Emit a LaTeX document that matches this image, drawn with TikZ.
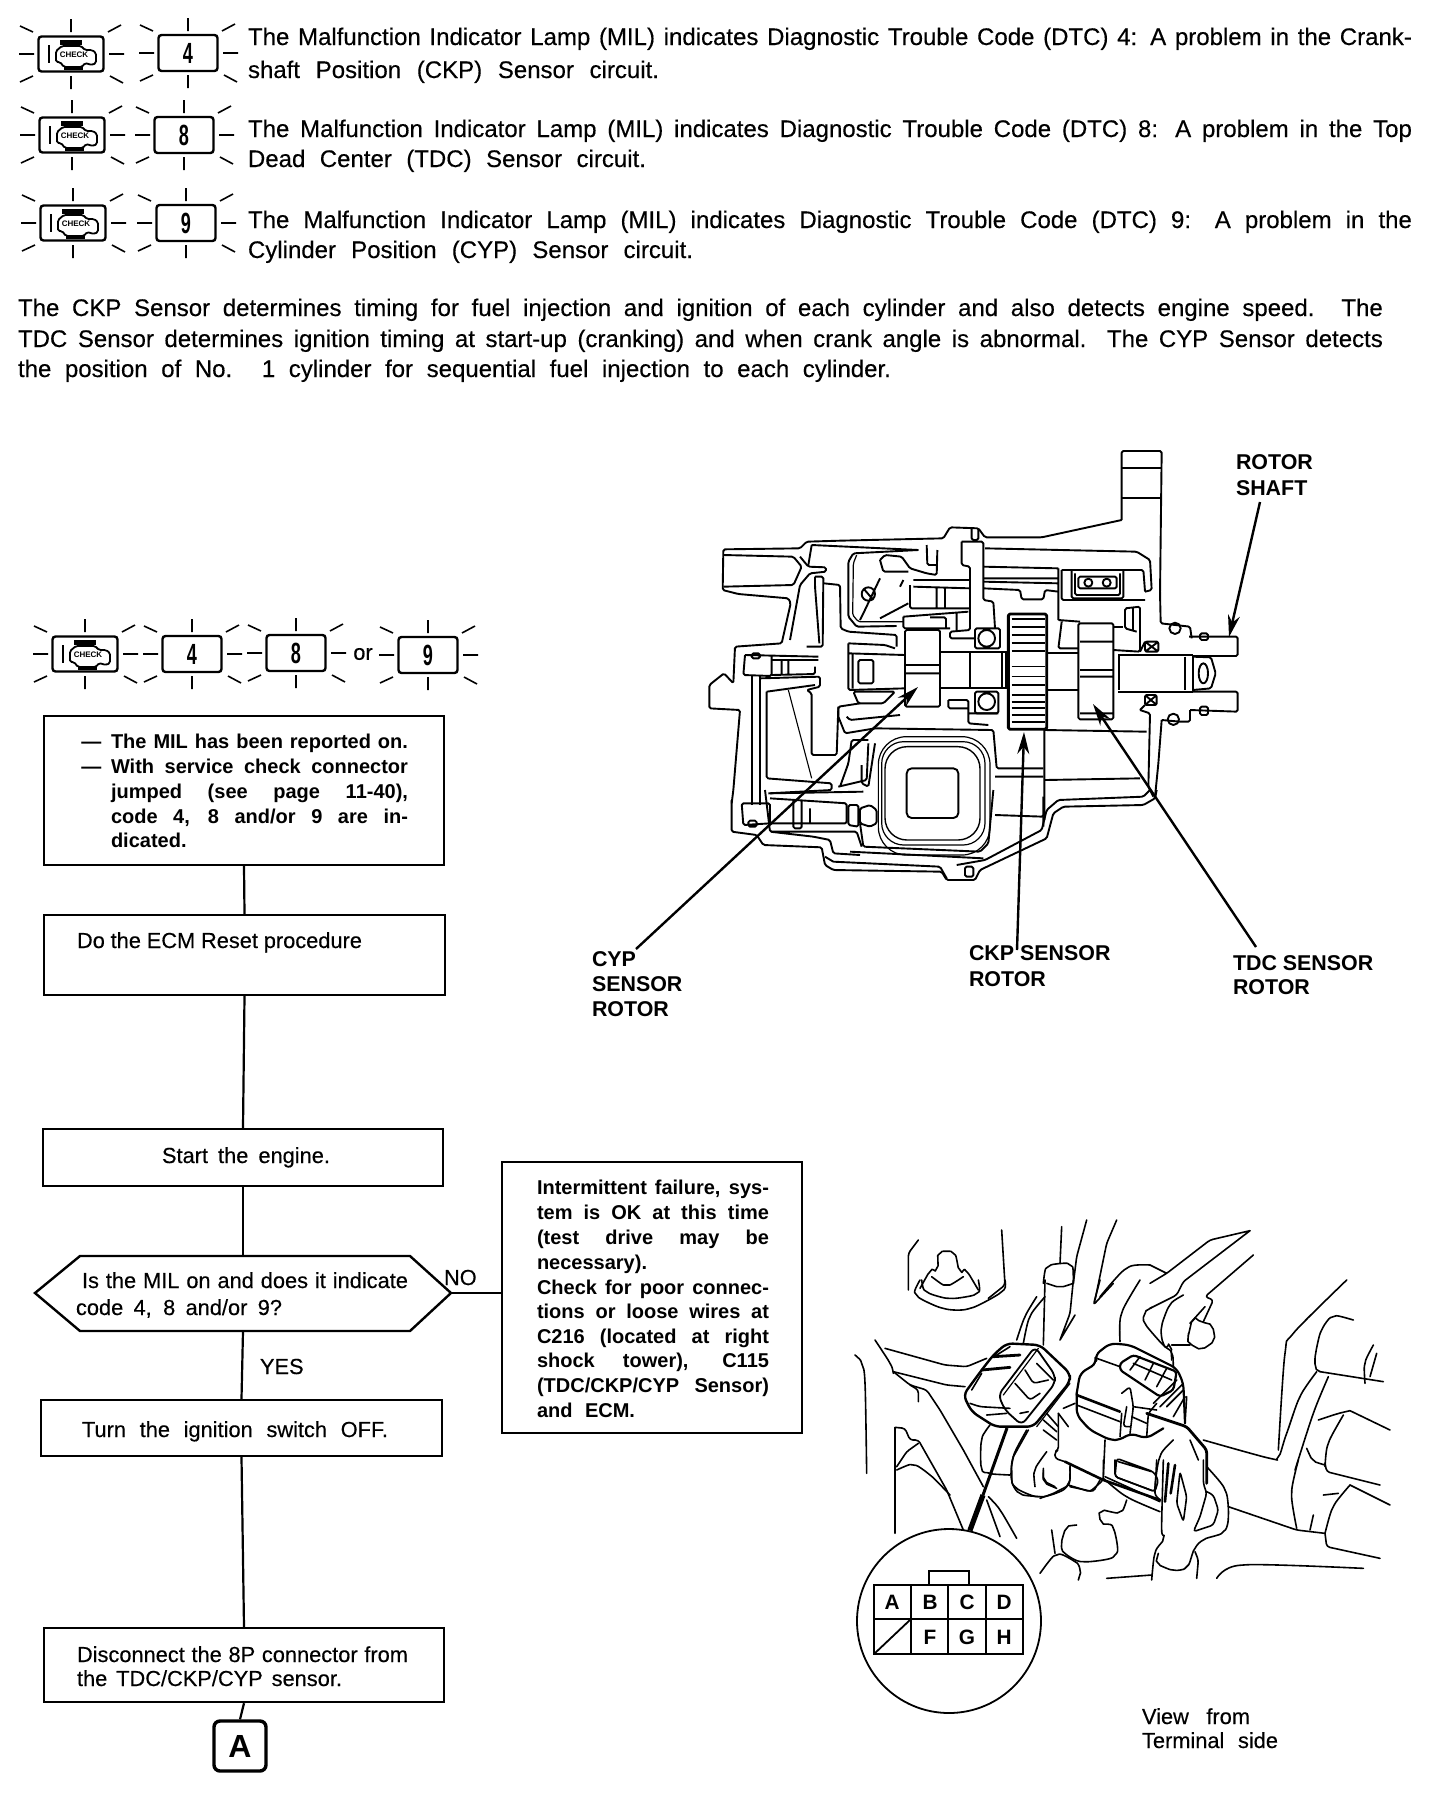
\documentclass[tikz,border=0pt]{standalone}
\usepackage{fontspec}
\usepackage{graphicx}
\usetikzlibrary{arrows.meta}
\setmainfont{Liberation Sans}
\newfontfamily\bodyf[FakeBold=0.35]{Liberation Sans}
\newfontfamily\boldf[Ligatures=TeX]{Liberation Sans Bold}
\newdimen\pxu \pxu=0.5pt
\newcommand\fbody{\bodyf\fontsize{12}{14}\selectfont}
\newcommand\fflow{\bodyf\fontsize{10.9}{13}\selectfont}
\newcommand\fbold{\boldf\fontsize{10}{12}\selectfont}
\newcommand\flab{\boldf\fontsize{10.7}{12}\selectfont}
\newcommand\fpin{\boldf\fontsize{10.4}{12}\selectfont}
\newcommand\txl[6]{\node[tline,font=#1] (#2) at (#3,#4) {\makebox[#5\pxu][s]{#6}};}
\newcommand\txn[5]{\node[tline,font=#1] (#2) at (#3,#4) {#5};}
\newcommand\fb[5]{\node[flow,minimum width={(#4-#2)*0.5pt},minimum height={(#5-#3)*0.5pt}] (#1) at ({(#2+#4)/2},{(#3+#5)/2}) {};}
\newcommand\rays[4]{%
 \draw[ray] (#1,#2-#4-4)--(#1,#2-#4-17) (#1,#2+#4+4)--(#1,#2+#4+17)
 (#1-#3-4,#2)--(#1-#3-19,#2) (#1+#3+5,#2)--(#1+#3+20,#2)
 (#1-#3-5,#2-#4-4)--(#1-#3-18,#2-#4-10) (#1+#3+4,#2-#4-4)--(#1+#3+17,#2-#4-11)
 (#1-#3-5,#2+#4+4)--(#1-#3-18,#2+#4+10) (#1+#3+6,#2+#4+4)--(#1+#3+19,#2+#4+11);}
\newcommand\lamp[3]{%
 \node[lampbox] (#1) at (#2,#3) {};
 \rays{#2}{#3}{33}{18}
 \begin{scope}[shift={(#2,#3)}]
  \draw[line width=1.1pt] (-22,-9)--(-22,9);
  \draw[line width=0.9pt,rounded corners=0.8pt] (-15,-3)--(-9,-8)--(10,-8)--(14,-4)--(21,-4)--(25,-1)--(25,9)--(21,11)--(14,9)--(11,13)--(-7,13)--(-11,8)--(-15,8)--cycle;
  \fill (-11,-14) rectangle (11,-9);
  \fill (-7,13) rectangle (12,16);
  \node[inner sep=0,font=\boldf\fontsize{4}{5}\selectfont] (#1t) at (3,1) {CHECK};
 \end{scope}}
\newcommand\numb[4]{%
 \node[numbox] (#1) at (#2,#3) {\scalebox{0.62}[1]{#4}};
 \rays{#2}{#3}{30}{18}}
\tikzset{
 tline/.style={anchor=base west,inner sep=0pt,outer sep=0pt},
 flow/.style={draw,line width=1.2pt,inner sep=0pt},
 link/.style={line width=1.1pt},
 ray/.style={line width=0.8pt},
 lampbox/.style={draw,rounded corners=1.5pt,line width=1.2pt,inner sep=0pt,minimum width=32.5pt,minimum height=17.5pt},
 numbox/.style={draw,rounded corners=1.5pt,line width=1.2pt,inner sep=0pt,minimum width=29.5pt,minimum height=18pt,font=\boldf\fontsize{14.6}{15}\selectfont},
 sec/.style={x=0.16667pt,y=-0.16667pt,line width=0.95pt,line join=round,rounded corners=0.8pt},
 leader/.style={line width=1.2pt,-{Stealth[length=11pt,width=6pt]}},
 art/.style={x=0.16667pt,y=-0.16667pt,line width=0.8pt,line join=round,line cap=round,rounded corners=1.5pt},
 pin/.style={inner sep=0pt,font=\fpin}
}
\begin{document}
\begin{tikzpicture}[x=0.5pt,y=-0.5pt]
\useasboundingbox (0,0) rectangle (1440,1804);
% --- top rows
\lamp{l1}{71}{54}\numb{n1}{188}{53}{4}
\lamp{l2}{72}{135}\numb{n2}{184}{135}{8}
\lamp{l3}{73}{223}\numb{n3}{186}{223}{9}
\txl{\fbody}{t1a}{248}{45}{1164}{The Malfunction Indicator Lamp (MIL) indicates Diagnostic Trouble Code (DTC) 4: A problem in the Crank-}
\txl{\fbody}{t1b}{248}{78}{411}{shaft Position (CKP) Sensor circuit.}
\txl{\fbody}{t2a}{248}{137}{1164}{The Malfunction Indicator Lamp (MIL) indicates Diagnostic Trouble Code (DTC) 8: A problem in the Top}
\txl{\fbody}{t2b}{248}{167}{398}{Dead Center (TDC) Sensor circuit.}
\txl{\fbody}{t3a}{248}{228}{1164}{The Malfunction Indicator Lamp (MIL) indicates Diagnostic Trouble Code (DTC) 9: A problem in the}
\txl{\fbody}{t3b}{248}{258}{445}{Cylinder Position (CYP) Sensor circuit.}
\txl{\fbody}{p1}{18}{316}{1365}{The CKP Sensor determines timing for fuel injection and ignition of each cylinder and also detects engine speed. The}
\txl{\fbody}{p2}{18}{347}{1365}{TDC Sensor determines ignition timing at start-up (cranking) and when crank angle is abnormal. The CYP Sensor detects}
\txl{\fbody}{p3}{18}{377}{873}{the position of No. 1 cylinder for sequential fuel injection to each cylinder.}
% --- flow row
\lamp{l4}{85}{654}\numb{n4}{192}{654}{4}\numb{n8}{296}{653}{8}\numb{n9}{428}{655}{9}
\node[inner sep=0,font=\fflow] (orw) at (363,654) {or};
% --- flow boxes
\fb{b1}{44}{716}{444}{865}
\fb{b2}{44}{915}{445}{995}
\fb{b3}{43}{1129}{443}{1186}
\fb{b4}{41}{1400}{442}{1456}
\fb{b5}{44}{1628}{444}{1702}
\fb{side}{502}{1162}{802}{1433}
\node[draw,rounded corners=3pt,line width=1.7pt,minimum width=26pt,minimum height=25pt,inner sep=0,font=\boldf\fontsize{16}{18}\selectfont] (a) at (240,1746) {A};
% decision
\coordinate (dl) at (35,1293);
\coordinate (dtl) at (80,1256);
\coordinate (dtr) at (410,1256);
\coordinate (dr) at (451,1293);
\coordinate (dbr) at (410,1331);
\coordinate (dbl) at (80,1331);
\coordinate (dt) at (243,1256);
\coordinate (db) at (243,1331);
\draw[flow] (dl)--(dtl)--(dtr)--(dr)--(dbr)--(dbl)--cycle;
% connectors
\draw[link] (b1.south)--(b2.north);
\draw[link] (b2.south)--(b3.north);
\draw[link] (b3.south)--(dt);
\draw[link] (db)--(b4.north);
\draw[link] (b4.south)--(b5.north);
\draw[link] (b5.south)--(a.north);
\draw[link] (dr)--(side.west |- dr);
% flow texts
\node[inner sep=0,font=\fbold,anchor=base west] (d1) at (81,748) {---};
\node[inner sep=0,font=\fbold,anchor=base west] (d2) at (81,773) {---};
\txl{\fbold}{x1}{111}{748}{297}{The MIL has been reported on.}
\txl{\fbold}{x2}{111}{773}{297}{With service check connector}
\txl{\fbold}{x3}{111}{798}{297}{jumped (see page 11-40),}
\txl{\fbold}{x4}{111}{823}{297}{code 4, 8 and/or 9 are in-}
\txl{\fbold}{x5}{111}{847}{80}{dicated.}
\txl{\fflow}{y1}{77}{948}{285}{Do the ECM Reset procedure}
\txl{\fflow}{y2}{162}{1163}{168}{Start the engine.}
\txl{\fflow}{y3}{82}{1288}{326}{Is the MIL on and does it indicate}
\txl{\fflow}{y4}{76}{1315}{206}{code 4, 8 and/or 9?}
\txn{\fflow}{no}{444}{1285}{NO}
\txn{\fflow}{yes}{260}{1374}{YES}
\txl{\fflow}{y5}{82}{1437}{306}{Turn the ignition switch OFF.}
\txl{\fflow}{y6}{77}{1662}{331}{Disconnect the 8P connector from}
\txl{\fflow}{y7}{77}{1686}{265}{the TDC/CKP/CYP sensor.}
\txl{\fbold}{s1}{537}{1194}{232}{Intermittent failure, sys-}
\txl{\fbold}{s2}{537}{1219}{232}{tem is OK at this time}
\txl{\fbold}{s3}{537}{1244}{232}{(test drive may be}
\txl{\fbold}{s4}{537}{1269}{116}{necessary).}
\txl{\fbold}{s5}{537}{1294}{232}{Check for poor connec-}
\txl{\fbold}{s6}{537}{1318}{232}{tions or loose wires at}
\txl{\fbold}{s7}{537}{1343}{232}{C216 (located at right}
\txl{\fbold}{s8}{537}{1367}{232}{shock tower), C115}
\txl{\fbold}{s9}{537}{1392}{232}{(TDC/CKP/CYP Sensor)}
\txl{\fbold}{s10}{537}{1417}{98}{and ECM.}
% main crop of the section
\begin{scope}[shift={(700,520)},sec]
 % bracket
 \draw (1265,0)--(1265,-207)--(1385,-207)--(1380,220)--(1382,310)--(1470,320)--(1475,355);
 \draw (1265,-155)--(1385,-155) (1265,-66)--(1385,-66);
 % shaft end
 \draw (1467,350)--(1613,350)--(1613,408)--(1478,408);
 \draw (1478,515)--(1613,515)--(1613,575)--(1470,570);
 \draw (1478,410)--(1533,412)--(1547,460)--(1533,505)--(1478,510) (1510,460) ellipse (14 and 30);
 \draw (1500,340) rectangle (1524,360) (1500,560) rectangle (1524,585);
 \draw (1265,0)--(1025,52)--(855,52)--(835,25)--(750,22)--(730,55)--(420,62)--(320,65)--(300,85)--(70,88)--(68,210)--(115,222)--(265,235)--(272,250)--(245,370)--(105,380)--(100,490)--(72,460)--(28,495)--(28,565)--(120,570)--(100,810)--(95,850);
 \draw (70,105)--(280,110)--(305,140)--(285,185)--(280,195)--(70,200);
 \draw (300,110)--(325,140)--(378,142)--(378,155)--(330,160)--(300,195)--(270,360);
 \draw (335,75)--(655,90) (335,75)--(325,135);
 \draw (855,85)--(1310,95)--(1350,120)--(1355,210)--(1335,215);
 \draw (345,170)--(370,170)--(368,380)--(320,380) (345,170)--(345,200)--(358,370);
 \draw (655,90)--(460,100)--(445,125)--(445,290)--(470,320)--(590,318);
 \draw[line width=0.6pt] (470,105)--(460,130)--(458,285)--(475,305)--(610,305);
 \draw (372,190)--(420,195)--(422,325)--(445,335)--(590,345)--(590,380);
 \draw (445,370)--(555,375)--(585,385);
 \draw (540,120)--(555,105)--(605,110)--(630,145)--(680,160)--(710,165)--(712,90);
 \draw (540,120)--(550,155)--(625,155) (680,75)--(682,135)--(710,135) (505,222) circle [radius=20] (490,205)--(520,240) (540,175)--(490,280)--(480,300) (540,295)--(625,250) (610,180)--(600,200);
 \draw (135,405)--(355,410) (135,405)--(130,465)--(215,468)--(215,410) (155,400) rectangle (180,415);
 \draw (155,465)--(155,855) (180,465)--(180,855);
 \draw (215,420)--(355,420) (215,465)--(345,462)--(345,440) (245,420)--(245,465) (265,420)--(265,465);
 \draw (180,475)--(360,470)--(360,500)--(320,510)--(335,520)--(335,705)--(410,705)--(415,560)--(480,550);
 \draw (200,515)--(345,495) (200,515)--(200,775)--(395,790)--(395,810)--(205,820);
 \draw[line width=0.55pt] (265,510)--(335,775);
 \draw (445,400)--(615,405) (445,370)--(445,510)--(615,505) (458,400)--(458,505);
 \draw (475,420)--(520,420)--(520,490)--(475,490)--cycle (460,515)--(585,515)--(550,550)--(475,550)--cycle;
 \draw (610,290)--(805,275) (610,290)--(610,325)--(750,325) (690,292)--(738,292)--(738,325) (770,275)--(770,330);
 \draw (720,395)--(925,395) (720,505)--(925,505) (810,395)--(810,505) (905,395)--(905,505) (918,395)--(918,505);
 \draw (825,325) rectangle (900,385) (860,355) circle [radius=25] (825,515) rectangle (895,580) (860,545) circle [radius=25];
 \draw (745,540)--(805,540)--(805,610)--(865,615) (745,540)--(745,565)--(805,565) (805,580)--(895,580);
 \draw (785,65)--(850,65)--(850,240)--(880,245)--(885,325) (785,65)--(785,135)--(810,140)--(810,330)--(750,335)--(750,355)--(825,355);
 \draw (815,25)--(815,60)--(835,60)--(835,25);
 \draw (640,180)--(810,180) (640,200)--(810,205) (630,195)--(630,265)--(810,265) (735,205)--(735,265) (710,205)--(710,265);
 \draw (850,140)--(1075,145) (850,175)--(1075,175) (850,185)--(1075,190) (850,205)--(960,210)--(965,238)--(1030,238)--(1035,210)--(1075,215) (1075,145)--(1075,300);
 \draw (1085,150)--(1330,150)--(1335,215) (1085,150)--(1085,240)--(1335,240);
 \draw (1115,150)--(1115,235)--(1270,235)--(1270,150) (1125,160)--(1125,225)--(1260,225)--(1260,160) (1135,170)--(1135,205)--(1250,205)--(1250,170)--cycle;
 \draw (1165,188) circle [radius=12] (1220,188) circle [radius=12];
 \draw (1075,300)--(1140,305) (1085,305)--(1075,385)--(1135,385) (1240,390)--(1320,395)--(1320,260)--(1275,265)--(1275,325)--(1310,335);
 \draw (1300,265)--(1300,330) (1240,320)--(1270,320);
 \draw (1255,405)--(1478,405) (1255,515)--(1478,515) (1258,405)--(1258,510) (1455,410)--(1455,510) (1478,405)--(1478,515);
 \draw (1040,400)--(1135,400) (1040,510)--(1135,510);
 \draw (1035,630)--(1340,635) (1320,570)--(1350,580)--(1345,800)--(1360,830) (1385,600)--(1375,730)--(1365,830);
 \draw (1385,600)--(1440,605)--(1470,605)--(1470,570);
 \draw (1420,598) circle [radius=17] (1425,325) circle [radius=17];
 \draw (1335,365) rectangle (1375,395) (1335,365)--(1375,395) (1375,365)--(1335,395);
 \draw (1335,525) rectangle (1370,555) (1335,525)--(1370,555) (1370,525)--(1335,555);
 \draw (1320,395)--(1335,365) (1320,570)--(1335,555);
 \draw (1035,780)--(1320,775) (1033,628)--(1033,900);
 % central window
 \draw[rounded corners=2.5pt] (620,745) rectangle (775,894);
 \draw[rounded corners=11pt,line width=0.7pt] (555,680) rectangle (840,960);
 \draw[rounded corners=11pt,line width=0.6pt] (545,665) rectangle (855,975);
 \draw[rounded corners=14pt,line width=0.6pt] (535,650) rectangle (870,1005);
 \draw (415,590)--(435,640)--(525,625)--(880,630)--(890,745)--(1030,745) (885,770)--(1030,770);
 \draw (440,590)--(450,600)--(600,585) (415,560)--(415,590);
 \draw (505,670)--(500,780)--(415,800) (420,800)--(445,730)--(455,660)--(505,660) (485,735)--(485,790)--(505,800)--(525,670);
 % rotors
 \draw[fill=white] (615,330) rectangle (720,560) (615,435)--(720,435) (615,460)--(720,460);
 \draw[fill=white] (1135,310) rectangle (1240,598) (1140,365)--(1240,365) (1140,450)--(1240,450) (1140,470)--(1240,470) (1140,580)--(1240,580);
 \draw[fill=white,line width=1.4pt] (925,282) rectangle (1040,628);
 \foreach \yy in {298,322,346,370,392}{\draw[line width=1.1pt] (935,\yy)--(1035,\yy);}
 \foreach \yy in {440,470,495}{\draw[line width=0.7pt] (935,\yy)--(1035,\yy);}
 \foreach \yy in {525,545,565,585,605}{\draw[line width=1.1pt] (935,\yy)--(1035,\yy);}
\end{scope}
% bottom crop
\begin{scope}[shift={(700,790)},sec]
 \draw (95,30)--(95,125)--(170,135)--(190,165)--(365,172)--(375,225)--(400,240)--(725,245)--(740,270)--(825,270)--(840,240)--(1040,145)--(1060,70)--(1090,50)--(1330,45)--(1365,25)--(1370,0);
 \draw (1350,0)--(1330,20)--(1075,30)--(1040,60)--(1025,120)--(855,210)--(770,225);
 \draw (125,40)--(210,40)--(210,100)--(130,105)--cycle (145,92) rectangle (170,110);
 \draw (210,25)--(440,40)--(440,100)--(210,100) (280,30)--(280,115)--(305,115)--(305,30) (330,55)--(330,100);
 \draw (445,45)--(445,105)--(475,110)--(475,45)--cycle (480,55)--(510,45)--(530,60)--(530,100)--(510,110)--(480,100)--cycle;
 \draw (195,0)--(210,125)--(340,140)--(390,150)--(400,190)--(480,195) (210,10)--(490,5) (215,125)--(470,125)--(485,170);
 \draw (450,185)--(850,205) (480,100)--(490,170)--(840,185)--(865,160)--(880,0);
 \draw (400,215)--(720,230)--(740,265) (375,200)--(400,215);
 \draw (795,230) rectangle (820,260);
 \draw (885,75)--(1030,80)--(1030,20) (1030,110)--(1030,80);
\end{scope}
% --- labels and leaders
\txn{\flab}{rs1}{1236}{469}{ROTOR}
\txn{\flab}{rs2}{1236}{495}{SHAFT}
\txn{\flab}{cy1}{592}{966}{CYP}
\txn{\flab}{cy2}{592}{991}{SENSOR}
\txn{\flab}{cy3}{592}{1016}{ROTOR}
\txn{\flab}{ck1}{969}{960}{CKP SENSOR}
\txn{\flab}{ck2}{969}{986}{ROTOR}
\txn{\flab}{td1}{1233}{970}{TDC SENSOR}
\txn{\flab}{td2}{1233}{994}{ROTOR}
\coordinate (tiprs) at (1229,637);
\coordinate (tipcy) at (918,687);
\coordinate (tipck) at (1024,732);
\coordinate (tiptd) at (1093,704);
\draw[leader] (1260,502)--(tiprs);
\draw[leader] (636,949)--(tipcy);
\draw[leader] (1017,950)--(tipck);
\draw[leader] (1256,947)--(tiptd);
% --- engine bay: upper left peg
\begin{scope}[shift={(850,1220)},art]
 \draw (175,210)--(175,100)--(205,60);
 \draw plot[smooth] coordinates {(210,205)(240,155)(260,145)(270,100)(310,100)(330,150)(350,155)(385,210)};
 \draw plot[smooth] coordinates {(245,170)(290,195)(340,170)};
 \draw (455,30)--(465,195)--(415,235) (635,20)--(630,130);
 \draw plot[smooth] coordinates {(580,190)(595,140)(660,135)(670,190)};
 \draw plot[smooth] coordinates {(590,190)(630,200)(670,190)};
 \draw (710,0)--(680,110)--(670,190) (800,0)--(770,70)--(735,240);
 \draw plot[smooth] coordinates {(900,135)(830,145)(750,230)};
\end{scope}
% crop C
\begin{scope}[shift={(900,1280)},art]
 \draw plot[smooth] coordinates {(60,0)(50,45)(130,85)(210,85)(305,35)(315,0)};
 \draw plot[smooth] coordinates {(65,0)(80,35)(150,55)(230,40)(235,0)};
 \draw (435,0)--(430,195) (520,0)--(510,100)--(480,180) (525,105)--(480,180);
 \draw plot[smooth] coordinates {(410,50)(375,110)(350,180)};
 \draw plot[smooth] coordinates {(435,50)(390,110)(370,190)};
 \draw (640,10)--(580,75)--(600,0);
 \draw plot[smooth] coordinates {(720,0)(665,100)(660,185)};
 \draw plot[smooth] coordinates {(755,82)(735,100)(735,130)(790,195)(810,200)(815,240)};
 \draw plot[smooth cycle] coordinates {(880,120)(865,170)(870,190)(905,205)(940,180)(935,140)(905,125)};
 \draw (815,195)--(870,195);
 % connector 1
 \draw[line width=1.2pt,rounded corners=3pt] (190,345)--(245,270)--(280,225)--(320,190)--(420,195)--(510,280)--(510,305)--(400,440)--(285,440)--(215,395)--cycle;
 \draw[line width=0.9pt,rounded corners=3pt] (295,345)--(405,200)--(465,285)--(465,310)--(365,435)--(315,390)--cycle;
 \draw[line width=0.6pt] (310,345)--(415,205) (410,440)--(510,310);
 \draw (375,270)--(400,310)--(445,300) (345,310)--(390,360)--(420,340) (410,250)--(460,300);
 \draw[line width=1.4pt] (245,270)--(330,262) (280,230)--(360,225);
 \draw (215,330)--(245,280) (210,370)--(240,380)--(330,385) (260,405)--(320,400) (330,200)--(290,225);
 \draw (360,400)--(385,395);
 \draw (430,420)--(470,455) (430,450)--(470,480) (440,400)--(475,440);
 \draw (475,400)--(475,510)--(465,515)--(465,535)--(495,545);
 \draw[line width=1.3pt] (495,545)--(610,600)--(780,660);
 \draw (490,385)--(525,370) (475,400)--(505,440);
 % connector 2
 \draw[line width=1.1pt,rounded corners=3pt] (530,340)--(540,280)--(590,250)--(585,225)--(630,190)--(690,195)--(830,265)--(850,310)--(855,430);
 \draw[line width=1.1pt,rounded corners=3pt] (530,340)--(530,405)--(570,450)--(630,480)--(660,480)--(690,460)--(740,475)--(790,445);
 \draw[line width=1.3pt] (530,345)--(660,395);
 \draw (530,375)--(660,425) (590,235)--(660,260);
 \draw[line width=1.1pt] (660,250)--(700,225)--(830,275)--(820,330)--(780,350)--(660,270)--cycle;
 \draw (700,250)--(815,300) (720,230)--(690,270) (760,250)--(735,300) (800,265)--(770,320);
 \draw (665,340)--(690,320)--(700,380)--(690,460) (665,400)--(660,470) (680,380)--(670,440)--(690,440) (700,380)--(770,390) (695,410)--(740,430);
 \draw[line width=1.4pt] (740,400)--(860,440)--(920,510)--(920,610);
 \draw (780,380)--(850,310) (800,380)--(850,330) (820,410)--(855,350) (860,350)--(855,430) (740,470)--(745,400)--(770,370) (760,370)--(830,300);
 \draw (870,480)--(895,540);
 \draw (650,535)--(645,590)--(765,635)--(775,600)--(760,575)--cycle (655,545)--(755,575) (615,480)--(610,590);
 \draw plot[smooth] coordinates {(820,480)(780,530)(765,630)(780,660)};
 % hose
 \draw plot[smooth] coordinates {(340,530)(335,570)(345,620)(420,650)(500,620)(510,550)};
 \draw (385,450)--(340,530);
 \draw plot[smooth] coordinates {(405,620)(405,570)(440,515)};
 \draw plot[smooth] coordinates {(430,565)(435,600)(465,620)};
 \draw (510,620)--(580,635)--(600,600);
\end{scope}
% crop D
\begin{scope}[shift={(1150,1220)},art]
 \draw (300,32)--(180,60)--(50,160)--(0,190) (300,32)--(100,185)--(80,225)--(0,265) (0,135)--(50,160);
 \draw plot[smooth] coordinates {(100,225)(60,255)(35,320)(40,370)(65,400)(70,440)};
 \draw (310,105)--(165,230)--(190,240)--(160,305) (165,260)--(120,310);
 \draw plot[smooth] coordinates {(590,180)(430,340)(405,400)(385,690)};
 \draw plot[smooth] coordinates {(160,660)(360,715)(385,710)(410,640)(450,530)(500,455)};
 \draw plot[smooth] coordinates {(610,300)(550,290)(515,330)(497,400)(497,440)(510,455)};
 \draw (510,455)--(700,485);
 \draw plot[smooth] coordinates {(670,375)(645,430)(645,490)};
 \draw plot[smooth] coordinates {(680,400)(660,470)};
 \draw plot[smooth] coordinates {(535,470)(490,580)(435,750)};
 \draw (720,630)--(600,572);
 \draw plot[smooth] coordinates {(505,600)(560,582)(600,572)};
 \draw plot[smooth] coordinates {(580,585)(535,670)(525,740)};
 \draw plot[smooth] coordinates {(470,685)(490,720)(525,735)};
\end{scope}
% crop G
\begin{scope}[shift={(850,1340)},art]
 \draw plot[smooth] coordinates {(75,0)(120,70)(130,100)};
 \draw (105,25)--(285,75)--(350,80)--(410,55) (130,95)--(290,135)--(345,140);
 \draw (130,95)--(180,135)--(230,150)--(270,210)--(340,330)--(400,440);
 \draw (180,135)--(205,150)--(205,185);
 \draw plot[smooth] coordinates {(15,45)(35,70)(45,130)(50,400)};
 \draw (135,262)--(135,580) (135,262)--(165,265)--(180,300)--(205,300)--(290,450)--(340,570);
 \draw (140,380)--(170,335)--(205,310);
 \draw plot[smooth] coordinates {(140,390)(190,375)(240,405)(300,465)};
 \draw plot[smooth] coordinates {(420,255)(395,300)(395,385)(420,400)(480,405)};
 \draw plot[smooth] coordinates {(415,470)(450,510)(500,595)};
 \draw (410,480)--(450,590);
 \draw plot[smooth] coordinates {(530,270)(490,350)(485,420)(510,460)(570,470)};
\end{scope}
% crop E
\begin{scope}[shift={(1040,1460)},art]
 \draw plot[smooth] coordinates {(0,115)(50,95)(85,70)(90,20)};
 \draw (85,75)--(150,95)--(190,60)--(190,0);
 \draw plot[smooth] coordinates {(10,30)(15,65)(50,85)};
 \draw (195,50)--(360,125);
 \draw plot[smooth] coordinates {(190,55)(260,110)(360,155)};
 \draw (225,0)--(225,50)--(345,95)--(350,0);
 \draw plot[smooth] coordinates {(260,120)(240,155)(185,155)(185,185)(220,205)(225,285)(130,305)(75,280)(65,250)(80,205)(110,195)};
 \draw (35,210)--(45,280);
 \draw plot[smooth] coordinates {(0,340)(50,285)(105,305)(120,330)(115,360)};
 \draw plot[smooth] coordinates {(370,0)(365,200)(370,235)(345,280)(335,360)};
 \draw plot[smooth] coordinates {(355,280)(355,310)(400,330)(440,320)(465,265)(490,240)(550,215)(565,170)(555,90)(500,20)};
 \draw (465,275)--(475,300)--(470,355);
 \draw[line width=1.3pt] (385,10)--(375,125) (405,15)--(392,100);
 \draw (420,35)--(410,130)--(430,185)--(440,110)--cycle;
 \draw (490,0)--(490,70)--(500,100)--(480,170)--(460,215)--(520,195)--(535,150)--(520,105)--(500,95);
 \draw (565,140)--(770,210)--(855,220);
 \draw (855,220)--(860,260)--(1020,295);
 \draw plot[smooth] coordinates {(855,220)(880,140)(930,75)};
 \draw (930,75)--(1050,135);
 \draw (850,105)--(895,100);
 \draw plot[smooth] coordinates {(775,0)(755,100)(770,205)};
 \draw (810,210)--(820,165);
 \draw (855,10)--(860,35)--(1020,75);
 \draw plot[smooth] coordinates {(530,355)(610,315)(970,325)};
 \draw (335,345)--(200,355);
\end{scope}
% --- connector view
\node[circle,draw,fill=white,line width=0.9pt,minimum size=92pt,inner sep=0pt] (cc) at (949,1621) {};
\coordinate (ldr) at (1007,1428);
\coordinate (ldm) at (983,1495);
\draw[line width=1.5pt] (ldr)--(ldm);
\draw[line width=2.6pt] (ldm)--(cc.77);
\draw[line width=0.9pt] (874,1585) rectangle (1023,1654) (874,1619)--(1023,1619) (911,1585)--(911,1654) (948,1585)--(948,1654) (986,1585)--(986,1654);
\draw[line width=0.9pt] (929,1585)--(929,1571)--(969,1571)--(969,1585);
\draw[line width=1.3pt] (874,1654)--(1023,1654);
\draw[line width=0.9pt] (874,1654)--(911,1619);
\node[pin] (pa) at (892,1602) {A};
\node[pin] (pb) at (930,1602) {B};
\node[pin] (pc) at (967,1602) {C};
\node[pin] (pd) at (1004,1602) {D};
\node[pin] (pf) at (930,1637) {F};
\node[pin] (pg) at (967,1637) {G};
\node[pin] (ph) at (1004,1637) {H};
\txl{\fflow}{v1}{1142}{1724}{108}{View from}
\txl{\fflow}{v2}{1142}{1748}{136}{Terminal side}
\end{tikzpicture}
\end{document}
